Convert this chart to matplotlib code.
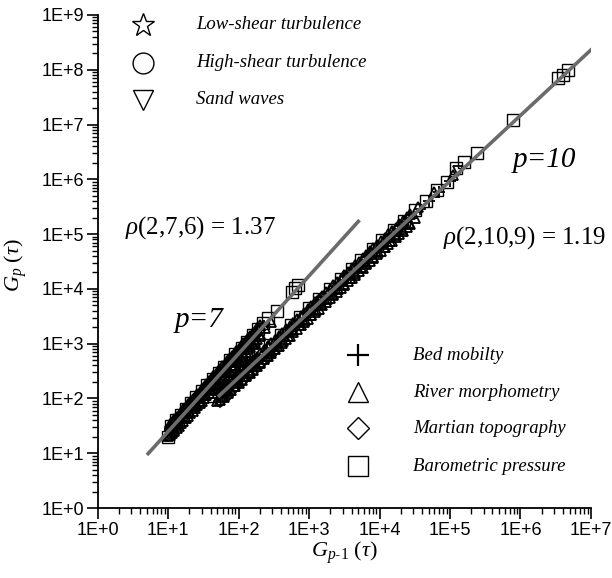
import matplotlib
matplotlib.use("Agg")
import matplotlib.pyplot as plt
import numpy as np

plt.rcParams["mathtext.fontset"] = "custom"
plt.rcParams["mathtext.rm"] = "Liberation Serif"
plt.rcParams["mathtext.it"] = "Liberation Serif:italic"

# ---- datos (G_{p-1}, G_p) ----
# Barometric pressure (cuadrados)
sq7_x = [10, 11, 13, 15, 18, 21, 25, 30, 36, 43, 52, 62, 75, 90, 110, 130, 160, 190, 222, 260, 350, 575, 640, 700]
sq7_y = [20, 32, 40, 50, 65, 82, 105, 135, 175, 225, 290, 380, 500, 640, 850, 1080, 1450, 1850, 2400, 2900, 3900, 8700, 10500, 12000]
sq10_x = [45, 60, 80, 110, 150, 200, 280, 400, 550, 750, 1000, 1400, 2000, 2800, 4000, 5500, 8000,
          1.1e4, 1.6e4, 2.2e4, 3.2e4, 4.5e4, 6.5e4, 9e4, 1.2e5, 1.6e5, 2.4e5, 7.8e5, 3.4e6, 4.0e6, 4.7e6]
sq10_y = [110, 150, 210, 310, 450, 640, 950, 1450, 2150, 3100, 4400, 6500, 1.0e4, 1.5e4, 2.3e4, 3.4e4, 5.3e4,
          7.7e4, 1.2e5, 1.75e5, 2.7e5, 4.0e5, 6.3e5, 9.0e5, 1.6e6, 2.1e6, 3.0e6, 1.2e7, 7.0e7, 8.0e7, 9.8e7]

# River morphometry (triangulos)
tri7_x = [10, 12, 14, 17, 20, 24, 28, 33, 40, 48, 57, 68, 80, 95, 115, 140, 170, 200, 240, 290]
tri7_y = [21, 27, 34, 44, 56, 73, 91, 115, 150, 195, 250, 320, 400, 515, 670, 890, 1170, 1480, 1900, 2500]
tri10_x = [50, 60, 70, 85, 100, 120, 140, 170, 200, 240, 290, 350, 420, 500, 600, 720, 870, 1050, 1250, 1500,
           1800, 2200, 2600, 3100, 3800, 4500, 5500, 6500, 8000, 9500, 1.15e4, 1.4e4, 1.7e4, 2.1e4, 2.6e4, 3.2e4,
           70, 130, 260, 600, 1300, 3000, 7000, 1.5e4, 3.5e4, 6e4, 1.1e5]
tri10_y = [90, 110, 135, 170, 205, 255, 310, 390, 470, 590, 730, 920, 1140, 1400, 1750, 2170, 2720, 3400, 4200, 5200,
           6500, 8200, 1.0e4, 1.24e4, 1.58e4, 1.94e4, 2.46e4, 3.0e4, 3.85e4, 4.7e4, 5.9e4, 7.5e4, 9.5e4, 1.22e5, 1.57e5, 2.0e5,
           185, 390, 890, 2430, 6100, 1.67e4, 4.6e4, 1.14e5, 3.1e5, 5.9e5, 1.2e6]

# nube densa p=7 (triangulos y cruces)
nube7_x = [10.8, 11.5, 12.3, 13.2, 14.2, 15.3, 16.5, 17.8, 19.2, 20.7, 22.3, 24, 26, 28, 30, 32.5, 35, 38, 41, 44,
           47.5, 51, 55, 59, 64, 69, 74, 80, 86, 93, 100, 108, 117, 126, 136, 147, 158, 170, 185, 200]
nube7_bajo = [21.5, 23.6, 25.9, 28.6, 31.7, 35.3, 39.2, 43.8, 48.7, 54.2, 60.2, 66.8, 74.9, 83.2, 91.7, 103, 114, 128, 143, 158,
              176, 195, 217, 240, 269, 299, 331, 369, 409, 458, 507, 566, 634, 704, 785, 877, 971, 1077, 1214, 1356]
nube7_alto = [34.5, 37.8, 41.5, 45.9, 50.9, 56.5, 62.9, 70.1, 78.0, 86.9, 96.5, 107, 120, 133, 147, 165, 183, 206, 229, 253,
              282, 312, 348, 384, 431, 480, 530, 592, 656, 733, 813, 907, 1015, 1128, 1258, 1405, 1556, 1726, 1946, 2174]
nube7_medio = [27.6, 30.2, 33.2, 36.7, 40.7, 45.2, 50.3, 56.1, 62.4, 69.5, 77.2, 85.7, 96.0, 107, 118, 132, 146, 165, 183, 203,
               226, 250, 278, 307, 345, 384, 424, 474, 525, 587, 650, 725, 812, 903, 1006, 1124, 1245, 1381, 1557, 1739]

# nube densa p=10
nube10_x = [55, 62, 70, 79, 89, 100, 113, 127, 143, 161, 181, 204, 230, 259, 292, 329, 370, 417, 470, 530,
            600, 670, 760, 850, 960, 1080, 1220, 1380, 1550, 1750, 1970, 2220, 2500, 2820, 3170, 3580, 4030, 4540,
            5100, 5800, 6500, 7300, 8200, 9300, 10500, 11800, 13300, 15000, 16900, 19000, 21400, 24200, 27200]
nube10_bajo = [93, 108, 124, 144, 166, 190, 220, 253, 292, 336, 387, 446, 515, 594, 685, 790, 909, 1049, 1210, 1397,
               1620, 1849, 2149, 2456, 2842, 3270, 3782, 4383, 5036, 5821, 6705, 7737, 8912, 10300, 11840, 13700, 15780, 18190,
               20900, 24370, 27930, 32090, 36860, 42860, 49540, 56960, 65710, 75880, 87520, 100600, 116000, 134400, 154500]
nube10_alto = [140, 161, 186, 216, 248, 286, 330, 380, 438, 504, 580, 669, 773, 891, 1027, 1185, 1363, 1573, 1814, 2095,
               2430, 2773, 3223, 3684, 4262, 4906, 5674, 6575, 7554, 8731, 10060, 11610, 13370, 15440, 17760, 20540, 23660, 27290,
               31360, 36550, 41890, 48130, 55300, 64280, 74300, 85440, 98570, 113800, 131300, 151000, 174000, 201600, 231700]

# Martian topography (rombos)
dia7_x = [11, 12.5, 14.5, 16, 19, 22, 26, 31, 37, 44, 53, 63, 77, 92, 112, 135, 165]
dia7_y = [30, 36, 45, 52, 66, 80, 100, 130, 165, 210, 275, 350, 470, 600, 790, 1030, 1370]
dia10_x = [55, 70, 90, 115, 140, 170, 210, 260, 320]
dia10_y = [88, 118, 160, 215, 270, 340, 440, 570, 730]

# Bed mobility (cruces)
plus7_x = [10.5, 13.5, 16.5, 20, 24, 29, 35, 42, 50, 60, 72, 86, 104, 125, 150, 185, 230]
plus7_y = [26.5, 38, 50, 66, 86, 112, 147, 190, 243, 315, 408, 525, 687, 893, 1157, 1557, 2124]
plus10_x = [50, 65, 85, 110, 145, 190, 250, 330, 430, 560, 740, 980, 1300, 1700, 2300, 3000, 4000, 5300,
            7000, 9200, 1.2e4, 1.6e4, 2.1e4, 2.8e4, 3.8e4, 5e4, 7e4, 1e5]
plus10_y = [104, 142, 196, 267, 371, 513, 711, 993, 1359, 1862, 2600, 3640, 5100, 7020, 1.01e4, 1.39e4, 1.95e4, 2.74e4,
            3.81e4, 5.28e4, 7.26e4, 1.02e5, 1.42e5, 2.0e5, 2.88e5, 4.0e5, 5.97e5, 9.16e5]

# Turbulencia y dunas
circ_x = [12, 18, 27, 40, 60, 95, 150]
circ_y = [33, 58, 100, 185, 125, 220, 380]
star_x = [15, 23, 75, 120]
star_y = [44, 80, 170, 290]
tdown_x = [20, 34, 100, 180, 1.3e5]
tdown_y = [64, 140, 230, 480, 1.4e6]

# Rectas de ajuste (extremos)
fit7_x = [5, 5200]
fit7_y = [9.3, 1.8e5]
fit10_x = [51, 1.07e7]
fit10_y = [107, 2.5e8]

xticks = [1e0, 1e1, 1e2, 1e3, 1e4, 1e5, 1e6, 1e7]
xlabels = ["1E+0", "1E+1", "1E+2", "1E+3", "1E+4", "1E+5", "1E+6", "1E+7"]
yticks = [1e0, 1e1, 1e2, 1e3, 1e4, 1e5, 1e6, 1e7, 1e8, 1e9]
ylabels = ["1E+0", "1E+1", "1E+2", "1E+3", "1E+4", "1E+5", "1E+6", "1E+7", "1E+8", "1E+9"]

fig = plt.figure(figsize=(6.12, 5.78), dpi=100)
ax = fig.add_axes([0.1596, 0.1211, 0.806, 0.853])
ax.set_xscale("log")
ax.set_yscale("log")

# marcadores huecos: los solapes oscurecen la nube como en el original
estilo = dict(linestyle="none", markerfacecolor="none", markeredgecolor="black", markeredgewidth=1.3)
ax.plot(nube7_x + nube10_x, nube7_bajo + nube10_bajo, marker="^", markersize=7.5, **estilo)
ax.plot(nube7_x + nube10_x, nube7_alto + nube10_alto, marker="^", markersize=7, **estilo)
ax.plot(tri7_x + tri10_x, tri7_y + tri10_y, marker="^", markersize=7.5, **estilo)
ax.plot(dia7_x + dia10_x, dia7_y + dia10_y, marker="D", markersize=6, **estilo)
ax.plot(circ_x, circ_y, marker="o", markersize=7, **estilo)
ax.plot(star_x, star_y, marker="*", markersize=9, **estilo)
ax.plot(tdown_x, tdown_y, marker="v", markersize=7, **estilo)
ax.plot(sq7_x + sq10_x, sq7_y + sq10_y, marker="s", markersize=8.5, linestyle="none",
        markerfacecolor="none", markeredgecolor="black", markeredgewidth=1.0)
ax.plot(plus7_x + plus10_x, plus7_y + plus10_y, marker="+", markersize=8,
        linestyle="none", color="black", markeredgewidth=1.3)
ax.plot(nube7_x, nube7_medio, marker="+", markersize=9, linestyle="none", color="black", markeredgewidth=1.5)

ax.plot(fit7_x, fit7_y, color="#6b6b6b", linewidth=2.6, zorder=5, solid_capstyle="butt")
ax.plot(fit10_x, fit10_y, color="#6b6b6b", linewidth=2.6, zorder=5, solid_capstyle="butt")

ax.set_xlim(1e0, 1e7)
ax.set_ylim(1e0, 1e9)
ax.set_xticks(xticks)
ax.set_xticklabels(xlabels)
ax.set_yticks(yticks)
ax.set_yticklabels(ylabels)
ax.xaxis.set_minor_locator(matplotlib.ticker.LogLocator(base=10, subs=np.arange(2, 10), numticks=20))
ax.yaxis.set_minor_locator(matplotlib.ticker.LogLocator(base=10, subs=np.arange(2, 10), numticks=20))
ax.xaxis.set_minor_formatter(matplotlib.ticker.NullFormatter())
ax.yaxis.set_minor_formatter(matplotlib.ticker.NullFormatter())
ax.tick_params(which="major", direction="out", length=8, width=1.2, labelsize=13, pad=2)
ax.tick_params(which="minor", direction="out", length=4, width=1.0)
for lab in ax.get_xticklabels() + ax.get_yticklabels():
    lab.set_fontfamily("Liberation Sans")

ax.spines["top"].set_visible(False)
ax.spines["right"].set_visible(False)
ax.spines["left"].set_linewidth(1.3)
ax.spines["bottom"].set_linewidth(1.3)

# Leyendas dibujadas a mano
leyenda1 = [("*", "Low-shear turbulence", 17), ("o", "High-shear turbulence", 15), ("v", "Sand waves", 14)]
leyenda2 = [("+", "Bed mobilty", 16), ("^", "River morphometry", 15), ("D", "Martian topography", 11),
            ("s", "Barometric pressure", 15)]
filas1 = [0.980, 0.903, 0.828]
filas2 = [0.310, 0.235, 0.162, 0.085]
for (m, txt, ms), yy in zip(leyenda1, filas1):
    ax.plot([0.092], [yy], marker=m, markersize=ms, transform=ax.transAxes, clip_on=False,
            markerfacecolor="white", markeredgecolor="black", markeredgewidth=1.0, linestyle="none")
    ax.text(0.199, yy, txt, transform=ax.transAxes, va="center", ha="left",
            family="Liberation Serif", style="italic", fontsize=13.5)
for (m, txt, ms), yy in zip(leyenda2, filas2):
    ax.plot([0.528], [yy], marker=m, markersize=ms, transform=ax.transAxes, clip_on=False,
            markerfacecolor="white", markeredgecolor="black", markeredgewidth=1.6 if m == "+" else 1.0,
            color="black", linestyle="none")
    ax.text(0.639, yy, txt, transform=ax.transAxes, va="center", ha="left",
            family="Liberation Serif", style="italic", fontsize=13.5)

# Anotaciones
ax.text(0.056, 0.568, r"$\rho$(2,7,6) = 1.37", transform=ax.transAxes, va="center", ha="left",
        family="Liberation Serif", fontsize=18)
ax.text(0.700, 0.548, r"$\rho$(2,10,9) = 1.19", transform=ax.transAxes, va="center", ha="left",
        family="Liberation Serif", fontsize=18)
ax.text(0.157, 0.381, "p=7", transform=ax.transAxes, va="center", ha="left",
        family="Liberation Serif", style="italic", fontsize=21)
ax.text(0.842, 0.706, "p=10", transform=ax.transAxes, va="center", ha="left",
        family="Liberation Serif", style="italic", fontsize=21)

fig.text(344 / 612, 1 - 553 / 578, r"$G_{p\text{-}\mathit{1}}\ (\tau)$", ha="center", va="center",
         family="Liberation Serif", fontsize=16)
fig.text(16 / 612, 1 - 265 / 578, r"$G_{p}\ (\tau)$", ha="center", va="center", rotation=90,
         family="Liberation Serif", fontsize=16)

fig.savefig("out.png", dpi=100)
